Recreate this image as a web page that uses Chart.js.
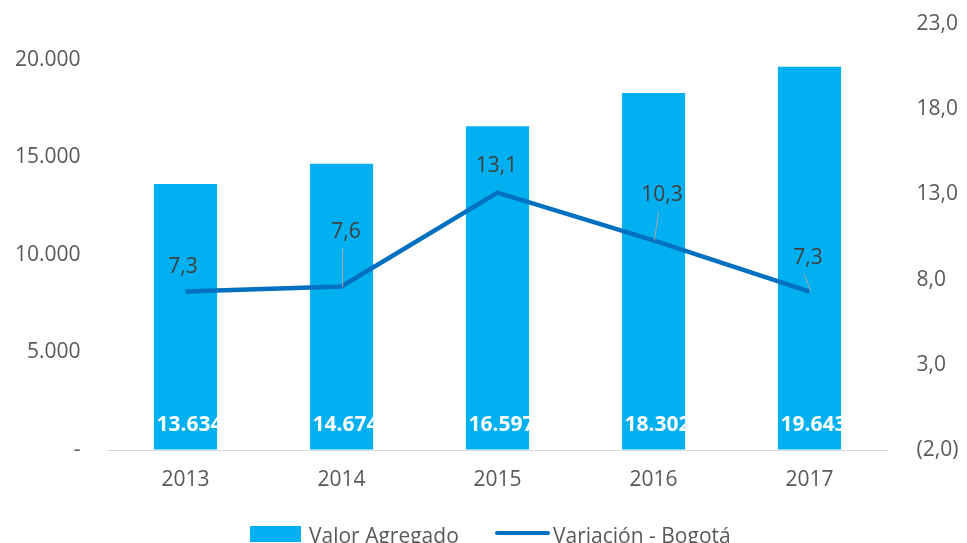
<!DOCTYPE html>
<html>
<head>
<meta charset="utf-8">
<script src="https://cdn.jsdelivr.net/npm/chart.js@4.4.1/dist/chart.umd.min.js"></script>
<style>
    html, body { margin: 0; padding: 0; background: #fff; overflow: hidden; }
    #wrap { width: 967px; height: 543px; position: relative; }
</style>
</head>
<body>
<div id="wrap"><canvas id="grafico"></canvas></div>
<script>
// Datos del gráfico
const anios = ['2013', '2014', '2015', '2016', '2017'];
const valorAgregado = [13634, 14674, 16597, 18302, 19643];
const variacion = [7.3, 7.6, 13.1, 10.3, 7.3];
const ticksIzquierda = [0, 5000, 10000, 15000, 20000];
const ticksDerecha = [-2, 3, 8, 13, 18, 23];

// Posición de las etiquetas de la línea respecto al punto
const etiquetaDx = [-2.5, 4.5, -1, 8.5, -1.5];
const etiquetaDy = [-25, -54, -27, -45, -34];
const conGuia = [false, true, false, true, true];

const FUENTE = "'Open Sans', 'Noto Sans', sans-serif";

function formatoMiles(v) {
    if (v === 0) return '-';
    return v.toString().replace(/\B(?=(\d{3})+(?!\d))/g, '.');
}

function formatoDecimal(v) {
    const txt = Math.abs(v).toFixed(1).replace('.', ',');
    return v < 0 ? '(' + txt + ')' : txt;
}

// Etiquetas de barras, de la línea y leyenda
const etiquetasPlugin = {
    id: 'etiquetas',
    afterDatasetsDraw(chart) {
        const ctx = chart.ctx;
        const barras = chart.getDatasetMeta(0).data;
        const puntos = chart.getDatasetMeta(1).data;

        ctx.save();
        ctx.font = 'bold 21px ' + FUENTE;
        ctx.fillStyle = '#ffffff';
        ctx.textAlign = 'center';
        ctx.textBaseline = 'middle';
        barras.forEach((b, i) => {
            ctx.save();
            ctx.beginPath();
            ctx.rect(b.x - b.width / 2, b.y, b.width, b.base - b.y);
            ctx.clip();
            ctx.fillText(formatoMiles(valorAgregado[i]), b.x + 4, b.base - 24);
            ctx.restore();
        });

        ctx.font = '21px ' + FUENTE;
        ctx.fillStyle = '#404040';
        puntos.forEach((p, i) => {
            const lx = p.x + etiquetaDx[i];
            const ly = p.y + etiquetaDy[i];
            if (conGuia[i]) {
                ctx.beginPath();
                ctx.strokeStyle = '#a6a6a6';
                ctx.lineWidth = 1;
                ctx.moveTo(lx - 3.5, ly + 16.5);
                ctx.lineTo(p.x + 1, p.y);
                ctx.stroke();
            }
            ctx.fillText(formatoDecimal(variacion[i]), lx, ly);
        });
        ctx.restore();
    },
    afterDraw(chart) {
        const ctx = chart.ctx;
        ctx.save();
        ctx.fillStyle = '#00B0F0';
        ctx.fillRect(250, 526, 51, 16);
        ctx.strokeStyle = '#0070C0';
        ctx.lineWidth = 4;
        ctx.lineCap = 'round';
        ctx.beginPath();
        ctx.moveTo(497, 533);
        ctx.lineTo(548, 533);
        ctx.stroke();
        ctx.font = '21px ' + FUENTE;
        ctx.fillStyle = '#595959';
        ctx.textAlign = 'left';
        ctx.textBaseline = 'middle';
        ctx.fillText(chart.data.datasets[0].label, 309, 537);
        ctx.fillText(chart.data.datasets[1].label, 553, 537);
        ctx.restore();
    }
};

// Marcas invisibles: sirven de separación entre etiquetas y área del gráfico
const gridInvisible = (largo) => ({
    display: true,
    drawOnChartArea: false,
    drawTicks: true,
    tickLength: largo,
    color: 'rgba(0,0,0,0)'
});

const ctx = document.getElementById('grafico').getContext('2d');
new Chart(ctx, {
    data: {
        labels: anios,
        datasets: [
            {
                type: 'bar',
                label: 'Valor Agregado',
                data: valorAgregado,
                backgroundColor: '#00B0F0',
                yAxisID: 'y',
                categoryPercentage: 1,
                barPercentage: 0.405,
                order: 2
            },
            {
                type: 'line',
                label: 'Variación - Bogotá',
                data: variacion,
                borderColor: '#0070C0',
                borderWidth: 4.5,
                pointRadius: 0,
                tension: 0,
                yAxisID: 'y2',
                order: 1
            }
        ]
    },
    options: {
        responsive: true,
        maintainAspectRatio: false,
        animation: false,
        layout: { padding: { top: 24, left: 0, right: 0, bottom: 0 } },
        plugins: {
            legend: { display: false },
            tooltip: { enabled: false }
        },
        scales: {
            x: {
                grid: { display: false },
                border: { display: true, color: '#d9d9d9', width: 1 },
                ticks: {
                    color: '#595959',
                    font: { family: FUENTE, size: 21 },
                    padding: 9
                },
                afterFit(scale) { scale.height = 93; }
            },
            y: {
                position: 'left',
                min: 0,
                max: 21837,
                grid: gridInvisible(27),
                border: { display: false },
                ticks: {
                    stepSize: 5000,
                    color: '#595959',
                    font: { family: FUENTE, size: 21 },
                    padding: 0,
                    callback: v => formatoMiles(v)
                },
                afterBuildTicks(scale) {
                    scale.ticks = ticksIzquierda.map(v => ({ value: v }));
                },
                afterFit(scale) { scale.width = 107.5; }
            },
            y2: {
                position: 'right',
                min: -2,
                max: 23,
                grid: gridInvisible(29),
                border: { display: false },
                ticks: {
                    stepSize: 5,
                    color: '#595959',
                    font: { family: FUENTE, size: 21 },
                    padding: 0,
                    callback: v => formatoDecimal(v)
                },
                afterBuildTicks(scale) {
                    scale.ticks = ticksDerecha.map(v => ({ value: v }));
                },
                afterFit(scale) { scale.width = 79.5; }
            }
        }
    },
    plugins: [etiquetasPlugin]
});
</script>
</body>
</html>
